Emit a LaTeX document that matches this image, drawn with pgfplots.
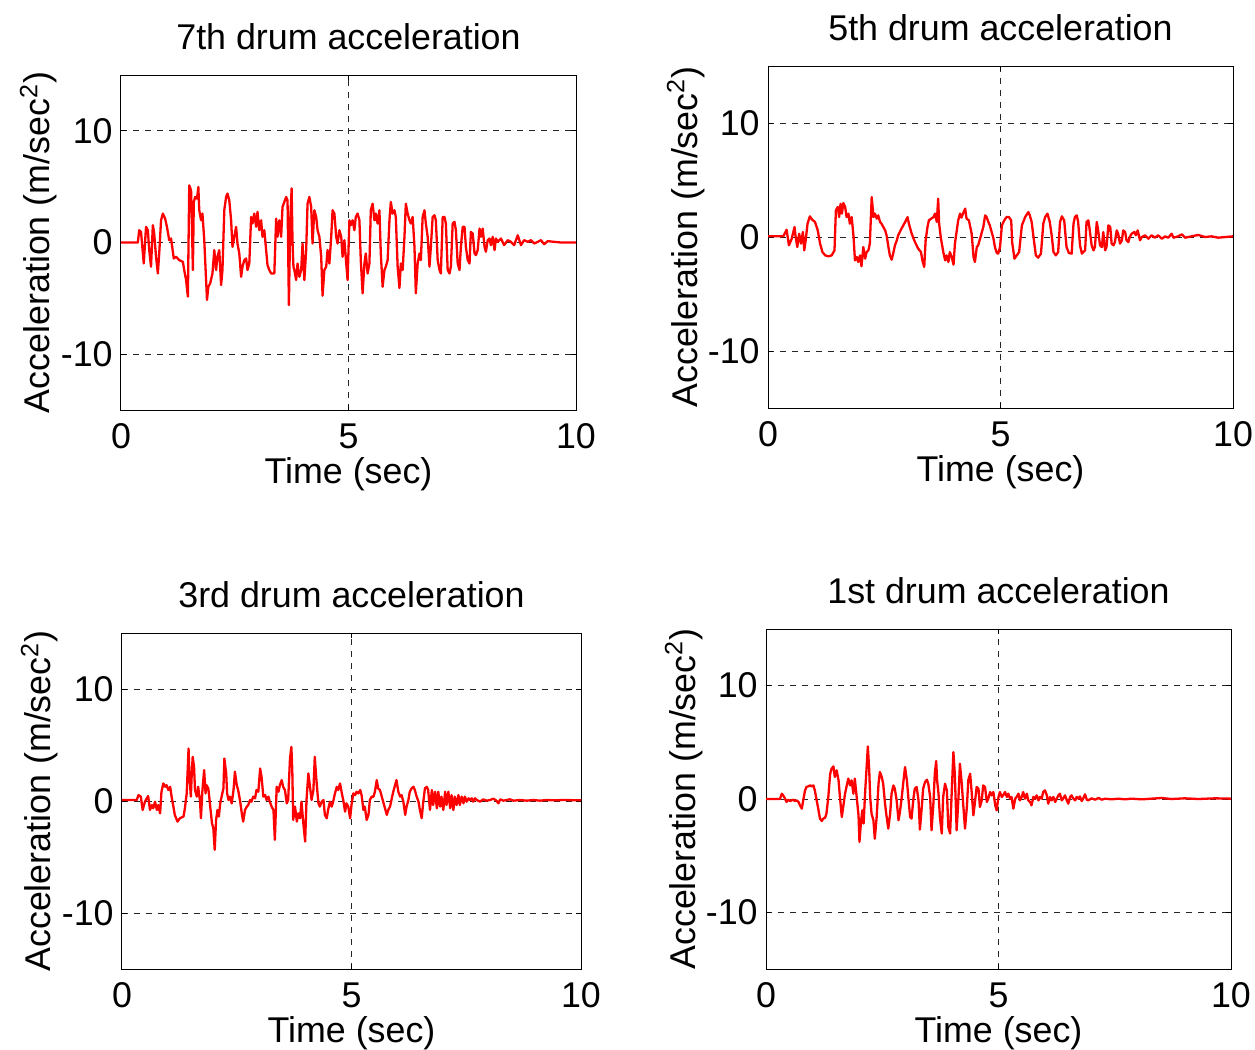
\documentclass[border=0pt]{standalone}
\usepackage{pgfplots}
\pgfplotsset{compat=1.18}
\usepackage{fontspec}
\setmainfont{Liberation Sans}
\newcommand{\fs}{\fontsize{17.9}{21}\selectfont}
\pgfplotsset{
  drum/.style={
    scale only axis,
    anchor=south west,
    xmin=0, xmax=10, ymin=-15, ymax=15,
    xtick={0,5,10}, ytick={-10,0,10},
    xticklabels={0,5,10}, yticklabels={-10,0,10},
    grid=major,
    major grid style={black!85, line width=0.5pt, dash pattern=on 3pt off 3pt},
    axis line style={black, line width=0.5pt},
    tick align=inside,
    major tick length=2.5pt,
    tick style={black, line width=0.5pt},
    every tick label/.append style={font=\fs, inner sep=0pt},
    every x tick label/.append style={anchor=base, yshift=-19pt},
    every y tick label/.append style={anchor=east, xshift=-4pt},
    every axis title/.style={at={(axis description cs:0.5,1)}, anchor=base, yshift=13pt, font=\fs, inner sep=0pt},
    every axis x label/.style={at={(axis description cs:0.5,0)}, anchor=base, yshift=-36.5pt, font=\fs, inner sep=0pt},
    every axis y label/.style={at={(axis description cs:0,0.5)}, xshift=-35.5pt, rotate=90, anchor=base, font=\fs, inner sep=0pt},
    xlabel={Time (sec)},
    ylabel={Acceleration (m/sec$^{\mathrm{2}}$)},
  },
  sig/.style={red, line width=1.15pt, line join=round, no markers},
}
\begin{document}
\begin{tikzpicture}
\useasboundingbox (0,0) rectangle (627.5pt,-525pt);
% ---------- 7th drum ----------
\begin{axis}[drum, at={(60.5pt,-205pt)}, width=227.5pt, height=167.5pt, title={7th drum acceleration}]
\addplot[sig] coordinates {
(0,0) (0.37,0) (0.40,1.10) (0.44,0.95) (0.50,-1.88) (0.55,1.40) (0.59,1.10) (0.62,-0.68) (0.66,-2.17) (0.70,1.55) (0.73,0.80) (0.77,-1.28) (0.81,-2.77) (0.84,-0.98) (0.88,1.99) (0.92,2.59) (0.97,2.14) (1.01,1.40) (1.06,0.21) (1.10,0.36) (1.16,-1.43) (1.21,-1.28) (1.28,-1.58) (1.36,-1.73) (1.39,-2.47) (1.43,-3.36) (1.47,-4.85) (1.50,5.12) (1.54,4.67) (1.55,3.18) (1.58,-2.47) (1.60,3.63) (1.63,4.08) (1.67,3.93) (1.70,4.97) (1.72,2.89) (1.76,1.99) (1.79,2.59) (1.83,0.21) (1.87,-3.36) (1.89,-5.15) (1.92,-3.96) (1.96,-3.66) (2.01,-2.77) (2.05,-0.68) (2.09,-2.47) (2.12,-1.28) (2.16,-0.68) (2.20,-3.81) (2.23,-2.47) (2.27,2.89) (2.31,4.08) (2.34,4.38) (2.38,3.78) (2.42,1.99) (2.45,-0.39) (2.49,0.51) (2.53,1.40) (2.56,-0.09) (2.60,-0.98) (2.64,-3.07) (2.67,-2.17) (2.71,-1.58) (2.75,-1.43) (2.78,-2.47) (2.82,-1.88) (2.86,2.29) (2.89,1.70) (2.93,2.59) (2.97,1.40) (3.00,2.74) (3.04,1.10) (3.08,1.99) (3.11,0.51) (3.15,1.10) (3.19,-0.68) (3.22,-2.02) (3.26,-2.47) (3.30,-2.77) (3.37,-2.77) (3.41,2.14) (3.44,0.51) (3.48,1.99) (3.52,0.51) (3.55,3.18) (3.59,3.63) (3.63,4.08) (3.66,3.78) (3.69,-5.6) (3.72,2.0) (3.75,4.85) (3.77,0.0) (3.79,-2.17) (3.81,-2.47) (3.85,-3.36) (3.88,-1.88) (3.92,-3.07) (3.96,-2.47) (3.99,-0.09) (4.03,-3.36) (4.07,-0.68) (4.10,3.48) (4.14,4.08) (4.18,3.18) (4.21,-0.09) (4.25,2.89) (4.29,2.29) (4.32,1.10) (4.36,0.51) (4.40,-1.28) (4.43,-4.76) (4.47,-2.47) (4.51,-2.17) (4.54,-0.68) (4.58,-1.88) (4.62,0.51) (4.65,2.89) (4.69,2.59) (4.73,0.51) (4.76,-0.09) (4.80,1.10) (4.84,0.51) (4.87,-1.28) (4.91,0.21) (4.95,-1.88) (4.98,-3.36) (5.02,1.99) (5.05,1.55) (5.09,1.99) (5.13,1.10) (5.16,2.29) (5.20,2.59) (5.24,1.99) (5.27,-1.58) (5.31,-4.55) (5.35,-1.88) (5.38,-0.98) (5.42,-2.77) (5.46,-1.88) (5.49,2.89) (5.53,3.48) (5.57,1.99) (5.60,2.59) (5.64,1.70) (5.68,2.89) (5.71,-0.98) (5.75,-3.96) (5.79,-2.47) (5.82,-2.17) (5.86,-1.58) (5.90,1.99) (5.93,3.63) (5.97,2.59) (6.01,2.89) (6.04,2.29) (6.08,-2.17) (6.12,-4.08) (6.15,-1.88) (6.19,-2.47) (6.23,0.51) (6.26,3.48) (6.30,2.59) (6.34,1.99) (6.37,1.70) (6.41,2.29) (6.45,-0.39) (6.48,-4.55) (6.52,-1.88) (6.56,-0.98) (6.59,-1.58) (6.63,2.29) (6.67,2.89) (6.70,1.70) (6.74,0.51) (6.78,-2.17) (6.81,-0.39) (6.85,2.29) (6.89,2.44) (6.92,1.99) (6.96,-1.58) (7.00,-2.47) (7.03,-2.77) (7.07,2.29) (7.11,2.29) (7.14,1.70) (7.18,-2.47) (7.22,-2.77) (7.25,-2.17) (7.29,1.70) (7.33,1.85) (7.36,1.10) (7.40,-1.88) (7.44,-2.47) (7.47,-0.39) (7.51,1.40) (7.55,1.40) (7.58,-0.39) (7.62,-1.58) (7.66,-1.88) (7.69,0.95) (7.73,0.80) (7.77,-0.98) (7.80,-1.13) (7.84,-0.68) (7.88,1.25) (7.91,0.51) (7.95,1.25) (7.99,-0.39) (8.02,-0.83) (8.06,0.21) (8.10,0.36) (8.13,-0.24) (8.17,0.51) (8.21,-0.68) (8.24,0.36) (8.28,0.06) (8.35,0.36) (8.42,-0.24) (8.50,0.21) (8.57,0.06) (8.64,-0.24) (8.72,0.65) (8.79,-0.24) (8.86,0.21) (8.94,0.06) (9.01,0.21) (9.08,-0.09) (9.16,0.06) (9.23,0.21) (9.30,-0.15) (9.38,0.12) (9.52,0.06) (9.67,0.0) (10.0,0.0)
};
\end{axis}
% ---------- 5th drum ----------
\begin{axis}[drum, at={(384pt,-204pt)}, width=232.5pt, height=171pt, title={5th drum acceleration}]
\addplot[sig] coordinates {
(0,0.06) (0.33,0.06) (0.40,0.64) (0.45,-0.73) (0.51,-0.15) (0.57,0.88) (0.59,0.15) (0.63,-0.88) (0.67,0.29) (0.71,-0.58) (0.75,0.44) (0.78,-1.17) (0.81,-0.29) (0.85,1.17) (0.90,1.81) (0.95,1.52) (1.01,1.32) (1.07,0.58) (1.12,-0.58) (1.17,-1.32) (1.23,-1.61) (1.30,-1.70) (1.37,-1.61) (1.43,-1.17) (1.46,2.34) (1.50,2.63) (1.53,1.75) (1.56,2.92) (1.59,2.05) (1.62,2.98) (1.66,2.63) (1.69,1.75) (1.73,2.05) (1.76,1.17) (1.80,1.75) (1.84,0.0) (1.87,-2.05) (1.91,-1.75) (1.94,-2.19) (1.98,-1.61) (2.01,-2.57) (2.05,-0.88) (2.09,-1.90) (2.12,-1.32) (2.16,-1.17) (2.19,-0.58) (2.23,3.51) (2.27,1.75) (2.30,2.05) (2.34,1.61) (2.37,1.90) (2.41,1.32) (2.44,1.17) (2.48,0.88) (2.52,0.58) (2.55,0.15) (2.59,-0.88) (2.62,-1.61) (2.66,-1.99) (2.70,-1.32) (2.73,-0.73) (2.77,-0.29) (2.80,0.15) (2.87,0.73) (2.95,1.32) (3.00,1.75) (3.03,1.17) (3.09,0.29) (3.16,-0.44) (3.23,-1.02) (3.29,-1.32) (3.32,-2.05) (3.36,-2.63) (3.39,-0.29) (3.43,0.88) (3.46,1.46) (3.51,1.61) (3.56,1.75) (3.59,2.05) (3.63,1.32) (3.66,3.36) (3.68,1.17) (3.72,-0.15) (3.77,-1.32) (3.81,-2.05) (3.84,-1.61) (3.88,-2.19) (3.91,-1.32) (3.95,-1.75) (3.99,-2.43) (4.02,-0.58) (4.06,0.58) (4.09,1.46) (4.13,2.05) (4.16,1.70) (4.20,2.11) (4.24,2.49) (4.27,1.61) (4.32,1.46) (4.38,0.29) (4.42,-1.75) (4.45,-2.19) (4.49,-0.88) (4.52,-0.73) (4.56,-0.15) (4.60,0.44) (4.63,0.88) (4.67,1.90) (4.70,1.75) (4.74,1.32) (4.77,1.02) (4.81,0.44) (4.85,-0.15) (4.88,-0.88) (4.92,-1.40) (4.95,-1.46) (4.99,-0.88) (5.03,1.02) (5.08,1.46) (5.13,1.75) (5.18,1.75) (5.23,1.46) (5.25,-0.44) (5.30,-1.90) (5.35,-1.61) (5.40,-1.32) (5.46,1.02) (5.53,1.75) (5.60,2.19) (5.63,1.90) (5.67,1.32) (5.71,0.0) (5.76,-1.61) (5.81,-1.81) (5.87,-1.46) (5.92,1.17) (5.96,1.75) (6.01,2.05) (6.06,1.32) (6.10,0.15) (6.14,-1.32) (6.19,-1.61) (6.24,-1.32) (6.28,1.32) (6.32,1.81) (6.37,1.46) (6.42,-0.88) (6.47,-1.40) (6.53,-1.46) (6.57,1.17) (6.60,1.75) (6.64,1.90) (6.67,1.32) (6.71,-0.73) (6.75,-1.46) (6.78,-1.32) (6.82,-1.17) (6.85,1.32) (6.89,1.46) (6.92,0.58) (6.96,-0.73) (7.00,-1.17) (7.03,-0.88) (7.07,1.32) (7.10,0.58) (7.14,-0.73) (7.18,-0.88) (7.21,0.44) (7.25,-1.17) (7.28,-0.88) (7.32,1.02) (7.36,0.88) (7.39,-0.58) (7.43,-0.73) (7.46,-0.44) (7.50,0.58) (7.53,0.29) (7.57,-0.58) (7.61,-0.29) (7.64,0.58) (7.68,0.44) (7.71,-0.29) (7.75,-0.44) (7.78,0.0) (7.82,0.29) (7.88,0.44) (7.91,0.15) (7.95,0.58) (8.00,-0.29) (8.04,0.0) (8.11,0.15) (8.18,-0.15) (8.25,0.15) (8.32,-0.06) (8.39,0.15) (8.47,-0.15) (8.54,0.06) (8.61,-0.06) (8.68,0.29) (8.72,-0.06) (8.82,0.06) (8.90,0.23) (8.97,-0.06) (9.11,0.06) (9.25,0.18) (9.40,0.0) (9.54,0.06) (9.68,-0.06) (10.0,0.06)
};
\end{axis}
% ---------- 3rd drum ----------
\begin{axis}[drum, at={(61pt,-484.5pt)}, width=229.5pt, height=168pt, title={3rd drum acceleration}]
\addplot[sig] coordinates {
(0,0.09) (0.32,0.09) (0.36,0.53) (0.41,0.39) (0.45,-0.80) (0.50,-0.06) (0.54,0.24) (0.57,0.44) (0.61,-0.80) (0.65,-0.36) (0.68,-0.65) (0.72,-0.06) (0.76,-0.80) (0.79,-0.36) (0.83,-1.10) (0.86,0.83) (0.90,1.57) (0.94,1.27) (0.97,1.42) (1.01,0.98) (1.05,1.27) (1.08,0.39) (1.12,-0.50) (1.15,-1.24) (1.21,-1.84) (1.26,-1.54) (1.34,-1.39) (1.37,-0.65) (1.41,0.68) (1.45,4.68) (1.47,2.16) (1.50,0.39) (1.52,2.46) (1.54,3.94) (1.57,3.05) (1.59,0.98) (1.63,0.39) (1.66,1.27) (1.70,-0.06) (1.72,-1.54) (1.75,0.83) (1.79,2.76) (1.82,0.68) (1.84,1.42) (1.88,1.13) (1.90,0.39) (1.93,-0.80) (1.96,-1.98) (1.99,-2.43) (2.02,-4.36) (2.05,-1.69) (2.08,-0.80) (2.11,-1.39) (2.14,-0.21) (2.17,0.39) (2.21,1.13) (2.23,3.79) (2.27,2.46) (2.29,0.68) (2.32,0.09) (2.35,0.39) (2.39,-0.21) (2.43,0.98) (2.46,2.61) (2.50,1.42) (2.53,0.98) (2.57,0.09) (2.61,-1.10) (2.64,-1.84) (2.68,-0.80) (2.72,-0.50) (2.75,-0.36) (2.79,0.09) (2.82,-0.06) (2.86,0.39) (2.90,0.24) (2.93,0.98) (2.97,0.83) (3.01,2.90) (3.04,2.16) (3.08,0.39) (3.12,0.53) (3.15,0.09) (3.19,0.39) (3.22,-0.06) (3.26,-0.50) (3.30,-0.80) (3.33,-3.47) (3.37,1.27) (3.41,0.83) (3.44,1.42) (3.48,1.87) (3.51,1.27) (3.55,0.98) (3.59,-0.21) (3.62,0.09) (3.66,3.79) (3.69,4.83) (3.71,2.76) (3.73,-1.69) (3.77,-0.50) (3.81,-1.84) (3.84,-1.10) (3.88,-1.54) (3.91,-0.06) (3.95,-1.98) (3.99,-3.62) (4.02,0.09) (4.06,2.46) (4.10,1.13) (4.13,0.09) (4.17,0.98) (4.20,3.94) (4.23,2.16) (4.26,0.68) (4.28,-0.21) (4.31,-0.50) (4.35,-0.06) (4.39,0.09) (4.42,-1.24) (4.46,-1.54) (4.49,-0.80) (4.53,-0.06) (4.57,-0.50) (4.60,-0.06) (4.64,0.68) (4.68,1.27) (4.71,0.98) (4.75,1.57) (4.79,0.68) (4.82,0.09) (4.86,-0.95) (4.89,-0.21) (4.93,-0.50) (4.97,-1.54) (5.00,-0.36) (5.04,0.68) (5.08,0.53) (5.11,0.83) (5.15,0.68) (5.19,0.98) (5.22,0.53) (5.26,-0.80) (5.29,-0.50) (5.33,-1.69) (5.37,-1.24) (5.40,0.09) (5.44,0.39) (5.48,0.39) (5.51,0.83) (5.55,1.87) (5.58,1.13) (5.62,0.98) (5.66,0.39) (5.69,-0.06) (5.73,-0.65) (5.77,-1.24) (5.80,-0.80) (5.84,-0.50) (5.87,0.09) (5.91,0.83) (5.95,1.42) (5.98,1.87) (6.02,0.83) (6.06,0.39) (6.09,0.53) (6.13,-0.06) (6.17,-1.24) (6.20,-0.50) (6.24,0.09) (6.27,0.83) (6.31,1.13) (6.35,1.27) (6.38,0.98) (6.42,0.39) (6.46,-0.06) (6.49,-0.80) (6.53,-1.54) (6.56,-0.21) (6.60,1.13) (6.64,1.27) (6.67,0.98) (6.71,-0.80) (6.75,0.98) (6.78,-0.36) (6.82,0.83) (6.86,-0.65) (6.89,0.83) (6.93,-0.50) (6.96,0.39) (7.00,-0.80) (7.04,0.83) (7.07,-0.36) (7.11,0.83) (7.15,-0.65) (7.18,0.53) (7.22,-0.80) (7.25,0.39) (7.29,-0.36) (7.33,0.53) (7.36,-0.36) (7.40,0.39) (7.44,-0.21) (7.47,0.39) (7.51,-0.06) (7.55,0.24) (7.58,0.09) (7.62,0.24) (7.65,-0.06) (7.69,0.24) (7.73,0.09) (7.80,-0.06) (7.87,0.15) (7.94,0.03) (8.02,0.09) (8.09,0.21) (8.16,0.03) (8.20,-0.21) (8.24,0.15) (8.31,0.03) (8.38,0.09) (8.45,0.15) (8.53,0.03) (8.67,0.09) (8.82,0.03) (8.96,0.09) (9.11,0.03) (9.25,0.09) (9.40,0.06) (9.62,0.09) (10.0,0.06)
};
\end{axis}
% ---------- 1st drum ----------
\begin{axis}[drum, at={(383pt,-484.5pt)}, width=232.5pt, height=170pt, title={1st drum acceleration}]
\addplot[sig] coordinates {
(0,0) (0.30,0) (0.34,0.47) (0.37,0.32) (0.41,0.03) (0.44,-0.26) (0.48,-0.06) (0.52,-0.18) (0.55,-0.12) (0.59,-0.06) (0.62,-0.18) (0.66,-0.12) (0.70,-0.26) (0.73,-0.56) (0.77,-0.85) (0.80,-0.12) (0.84,0.76) (0.87,1.06) (0.91,1.12) (0.95,1.20) (0.98,1.12) (1.02,1.20) (1.05,0.76) (1.09,-0.12) (1.13,-1.00) (1.16,-1.73) (1.20,-1.94) (1.23,-1.73) (1.27,-1.65) (1.30,-1.29) (1.34,0.18) (1.38,2.23) (1.41,2.67) (1.45,2.88) (1.48,1.94) (1.52,2.53) (1.56,1.65) (1.59,0.18) (1.63,-1.59) (1.66,-0.70) (1.70,0.47) (1.73,1.06) (1.77,1.80) (1.81,1.20) (1.84,1.65) (1.88,0.47) (1.91,1.80) (1.95,0.18) (1.99,-1.44) (2.01,-3.79) (2.04,-2.17) (2.07,-1.00) (2.10,-2.17) (2.13,0.47) (2.16,2.53) (2.19,4.64) (2.22,2.53) (2.24,0.18) (2.27,-1.29) (2.31,-1.88) (2.34,-3.50) (2.38,-1.59) (2.42,1.35) (2.45,2.38) (2.49,1.94) (2.52,1.35) (2.56,-0.41) (2.59,-1.44) (2.63,-2.61) (2.67,-1.29) (2.70,0.47) (2.74,1.20) (2.77,0.91) (2.81,-0.12) (2.85,-1.88) (2.88,-1.15) (2.92,0.18) (2.95,1.35) (2.99,2.82) (3.03,1.65) (3.06,0.18) (3.10,-1.59) (3.13,-1.73) (3.17,0.03) (3.20,0.91) (3.24,1.06) (3.28,-0.12) (3.31,-2.70) (3.35,-0.70) (3.38,0.91) (3.42,1.50) (3.46,1.70) (3.49,1.35) (3.53,0.18) (3.56,-2.76) (3.60,-0.41) (3.63,2.23) (3.66,3.35) (3.68,1.65) (3.71,0.47) (3.74,-1.59) (3.78,-3.05) (3.81,0.18) (3.85,1.35) (3.89,0.76) (3.92,-2.47) (3.96,-3.05) (3.99,0.18) (4.03,4.14) (4.06,2.23) (4.10,-2.76) (4.14,0.18) (4.17,3.11) (4.21,1.35) (4.24,-0.41) (4.28,-2.61) (4.32,-0.70) (4.35,1.65) (4.39,2.23) (4.42,0.76) (4.46,-1.44) (4.49,-0.41) (4.53,1.06) (4.57,0.91) (4.60,-0.70) (4.64,-0.12) (4.67,1.20) (4.71,1.06) (4.75,-0.26) (4.78,0.03) (4.82,0.62) (4.85,0.32) (4.89,0.62) (4.93,-0.56) (4.96,-1.00) (5.00,0.18) (5.03,0.62) (5.07,0.18) (5.10,0.32) (5.14,0.62) (5.18,0.18) (5.21,0.47) (5.25,0.03) (5.28,0.18) (5.32,-0.85) (5.36,0.03) (5.39,0.18) (5.43,0.47) (5.46,-0.12) (5.50,0.18) (5.53,0.62) (5.57,0.03) (5.61,0.47) (5.64,-0.12) (5.68,-0.26) (5.71,-0.56) (5.75,0.18) (5.79,0.03) (5.82,0.32) (5.86,-0.12) (5.89,0.18) (5.93,0.03) (5.96,0.62) (6.00,0.76) (6.04,0.32) (6.07,-0.41) (6.11,0.18) (6.14,-0.12) (6.18,0.18) (6.22,-0.26) (6.25,0.03) (6.29,0.32) (6.32,0.47) (6.36,-0.12) (6.39,0.03) (6.43,0.32) (6.47,-0.12) (6.50,-0.41) (6.54,0.18) (6.57,0.32) (6.61,0.03) (6.65,-0.12) (6.68,0.18) (6.72,0.03) (6.75,0.23) (6.79,-0.18) (6.82,0.03) (6.86,0.41) (6.90,-0.06) (6.93,-0.12) (7.00,0.06) (7.08,-0.06) (7.15,0.09) (7.22,-0.06) (7.29,0.03) (7.43,-0.03) (7.58,0.03) (7.72,-0.03) (7.86,0.03) (8.08,-0.03) (8.29,0.03) (8.51,0.09) (8.72,0.0) (9.01,0.06) (9.30,0.0) (9.66,0.06) (10.0,0.03)
};
\end{axis}
\end{tikzpicture}
\end{document}
